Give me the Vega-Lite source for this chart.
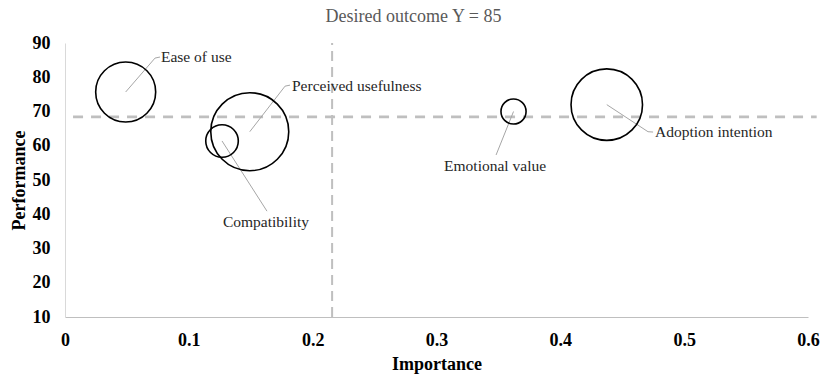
{
  "$schema": "https://vega.github.io/schema/vega-lite/v6.json",
  "width": 743,
  "height": 274,
  "autosize": "none",
  "padding": {"left": 65, "top": 43, "right": 25, "bottom": 63},
  "background": "white",
  "config": {
    "view": {"stroke": null},
    "font": "Liberation Serif"
  },
  "title": {
    "text": "Desired outcome Y = 85",
    "font": "Liberation Serif",
    "fontSize": 18,
    "fontWeight": "normal",
    "color": "#595959",
    "anchor": "middle",
    "dx": -23,
    "offset": 8
  },
  "datasets": {
    "factors": [
      {"factor": "Ease of use", "importance": 0.049, "performance": 75.7, "weight": 36.0},
      {"factor": "Perceived usefulness", "importance": 0.1492, "performance": 64.1, "weight": 60.8},
      {"factor": "Compatibility", "importance": 0.1268, "performance": 61.4, "weight": 10.6},
      {"factor": "Emotional value", "importance": 0.3622, "performance": 70.0, "weight": 6.3},
      {"factor": "Adoption intention", "importance": 0.4375, "performance": 72.0, "weight": 51.1}
    ],
    "leaders": [
      {"factor": "Ease of use", "step": 1, "importance": 0.049, "performance": 75.7},
      {"factor": "Ease of use", "step": 2, "importance": 0.0727, "performance": 85.6},
      {"factor": "Ease of use", "step": 3, "importance": 0.0767, "performance": 85.9},
      {"factor": "Perceived usefulness", "step": 1, "importance": 0.1492, "performance": 64.1},
      {"factor": "Perceived usefulness", "step": 2, "importance": 0.1777, "performance": 77.4},
      {"factor": "Perceived usefulness", "step": 3, "importance": 0.1817, "performance": 77.7},
      {"factor": "Compatibility", "step": 1, "importance": 0.1268, "performance": 61.4},
      {"factor": "Compatibility", "step": 2, "importance": 0.1631, "performance": 40.9},
      {"factor": "Emotional value", "step": 1, "importance": 0.3622, "performance": 70.0},
      {"factor": "Emotional value", "step": 2, "importance": 0.3481, "performance": 57.3},
      {"factor": "Adoption intention", "step": 1, "importance": 0.4375, "performance": 72.0},
      {"factor": "Adoption intention", "step": 2, "importance": 0.4708, "performance": 64.1},
      {"factor": "Adoption intention", "step": 3, "importance": 0.4749, "performance": 64.0}
    ],
    "labelsLeft": [
      {"factor": "Ease of use", "importance": 0.0775, "performance": 85.9},
      {"factor": "Perceived usefulness", "importance": 0.1833, "performance": 77.4},
      {"factor": "Adoption intention", "importance": 0.4765, "performance": 64.0}
    ],
    "labelsCenter": [
      {"factor": "Compatibility", "importance": 0.1623, "performance": 37.7},
      {"factor": "Emotional value", "importance": 0.3473, "performance": 54.1}
    ],
    "hline": [{"performance": 68.4, "importance": 0.0065, "importance_end": 0.607}],
    "vline": [{"importance": 0.2157, "performance": 10, "performance_end": 90}]
  },
  "encoding": {
    "x": {
      "field": "importance", "type": "quantitative",
      "scale": {"domain": [0, 0.6], "nice": false, "zero": false},
      "axis": {
        "title": "Importance",
        "values": [0, 0.1, 0.2, 0.3, 0.4, 0.5, 0.6],
        "format": ".1~f",
        "grid": false, "ticks": false,
        "domainColor": "#bfbfbf", "domainWidth": 1,
        "labelFont": "Liberation Serif", "labelFontSize": 18, "labelFontWeight": "bold", "labelColor": "black",
        "labelPadding": 14, "labelFlush": false, "labelOverlap": false,
        "titleFont": "Liberation Serif", "titleFontSize": 18, "titleFontWeight": "bold", "titleColor": "black",
        "titlePadding": 6
      }
    },
    "y": {
      "field": "performance", "type": "quantitative",
      "scale": {"domain": [10, 90], "nice": false, "zero": false},
      "axis": {
        "title": "Performance",
        "values": [10, 20, 30, 40, 50, 60, 70, 80, 90],
        "grid": false, "ticks": false,
        "domainColor": "#d9d9d9", "domainWidth": 1,
        "labelFont": "Liberation Serif", "labelFontSize": 18, "labelFontWeight": "bold", "labelColor": "black",
        "labelPadding": 15, "labelFlush": false, "labelOverlap": false,
        "titleFont": "Liberation Serif", "titleFontSize": 18, "titleFontWeight": "bold", "titleColor": "black",
        "titlePadding": 4
      }
    }
  },
  "layer": [
    {
      "data": {"name": "hline"},
      "mark": {"type": "rule", "color": "#bfbfbf", "strokeWidth": 2.75, "strokeDash": [10, 8]},
      "encoding": {
        "x2": {"field": "importance_end"}
      }
    },
    {
      "data": {"name": "vline"},
      "mark": {"type": "rule", "color": "#bfbfbf", "strokeWidth": 2, "strokeDash": [10, 6]},
      "encoding": {
        "y2": {"field": "performance_end"}
      }
    },
    {
      "data": {"name": "leaders"},
      "mark": {"type": "line", "color": "#a6a6a6", "strokeWidth": 1},
      "encoding": {
        "detail": {"field": "factor"},
        "order": {"field": "step"}
      }
    },
    {
      "data": {"name": "factors"},
      "mark": {"type": "point", "shape": "circle", "filled": false, "color": "black", "strokeWidth": 1.6, "opacity": 1},
      "encoding": {
        "size": {
          "field": "weight", "type": "quantitative",
          "scale": {"type": "linear", "domain": [0, 100], "range": [0, 10000], "zero": true},
          "legend": null
        }
      }
    },
    {
      "data": {"name": "labelsLeft"},
      "mark": {"type": "text", "align": "left", "baseline": "middle", "font": "Liberation Serif", "fontSize": 15.5, "color": "#262626"},
      "encoding": {
        "text": {"field": "factor"}
      }
    },
    {
      "data": {"name": "labelsCenter"},
      "mark": {"type": "text", "align": "center", "baseline": "middle", "font": "Liberation Serif", "fontSize": 15.5, "color": "#262626"},
      "encoding": {
        "text": {"field": "factor"}
      }
    }
  ]
}
